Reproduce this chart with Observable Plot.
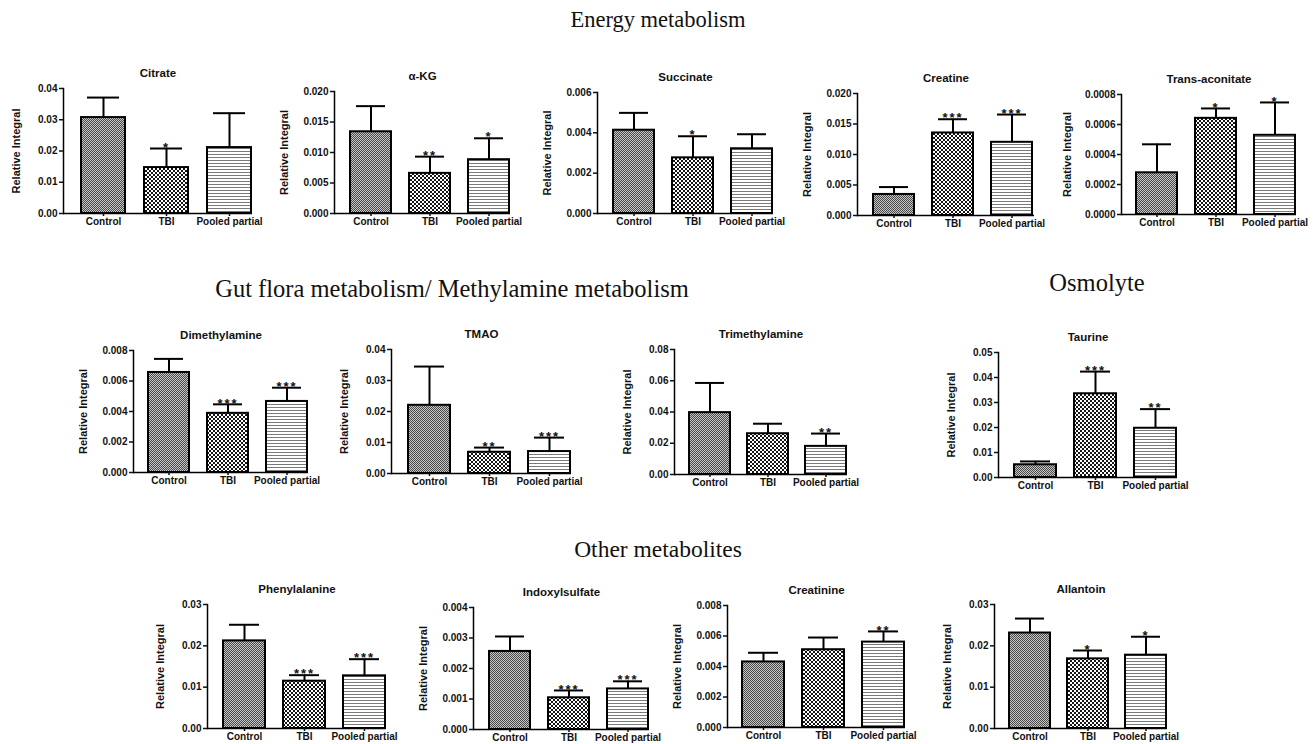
<!DOCTYPE html>
<html><head><meta charset="utf-8">
<script src="https://cdn.jsdelivr.net/npm/d3@7"></script>
<script src="https://cdn.jsdelivr.net/npm/@observablehq/plot@0.6"></script>
<style>
body{margin:0;background:#fff;}
#page{position:relative;width:1316px;height:744px;overflow:hidden;background:#fff;}
.panel{position:absolute;}
.panel svg{overflow:visible;}
.heading{position:absolute;font-family:"Liberation Serif","Times New Roman",serif;color:#111;white-space:nowrap;transform:translate(-50%,-50%);line-height:1;}
.stars text{letter-spacing:2px;}
</style></head><body><div id="page"></div>
<script>
// ---------- data ----------
const groups = ["Control", "TBI", "Pooled partial"];
const metabolites = ["Citrate", "α-KG", "Succinate", "Creatine", "Trans-aconitate",
  "Dimethylamine", "TMAO", "Trimethylamine", "Taurine",
  "Phenylalanine", "Indoxylsulfate", "Creatinine", "Allantoin"];
const sections = ["Energy metabolism", "Gut flora metabolism/ Methylamine metabolism", "Osmolyte", "Other metabolites"];
const yLabel = "Relative Integral";

const controlMean = [0.0307, 0.0134, 0.00413, 0.00345, 0.000278, 0.00656, 0.0220, 0.0396, 0.0051, 0.0212, 0.00256, 0.0043, 0.0231];
const controlErr  = [0.0371, 0.0176, 0.00499, 0.00466, 0.000468, 0.00745, 0.0345, 0.0586, 0.00643, 0.0251, 0.00305, 0.0049, 0.0266];
const tbiMean     = [0.0147, 0.00658, 0.00276, 0.01353, 0.000641, 0.00388, 0.00686, 0.0261, 0.0335, 0.01145, 0.00104, 0.0051, 0.01685];
const tbiErr      = [0.0208, 0.00932, 0.00383, 0.01578, 0.000707, 0.00447, 0.00836, 0.0325, 0.04236, 0.0129, 0.00128, 0.0059, 0.01887];
const pooledMean  = [0.0211, 0.00882, 0.00321, 0.0120, 0.000528, 0.00466, 0.00708, 0.0180, 0.0197, 0.01274, 0.00133, 0.0056, 0.01774];
const pooledErr   = [0.0321, 0.01233, 0.00393, 0.01655, 0.000747, 0.00556, 0.01158, 0.0262, 0.02735, 0.01677, 0.00158, 0.0063, 0.0222];
const tbiSig      = ["*", "**", "*", "***", "*", "***", "**", "", "***", "***", "***", "", "*"];
const pooledSig   = ["", "*", "", "***", "*", "***", "***", "**", "**", "***", "***", "**", "*"];

const yMax      = [0.04, 0.020, 0.006, 0.020, 0.0008, 0.008, 0.04, 0.08, 0.05, 0.03, 0.004, 0.008, 0.03];
const yStep     = [0.01, 0.005, 0.002, 0.005, 0.0002, 0.002, 0.01, 0.02, 0.01, 0.01, 0.001, 0.002, 0.01];
const yDecimals = [2, 3, 3, 3, 4, 3, 2, 2, 2, 2, 3, 3, 2];

// ---------- layout (page pixels): frame left, right, top, bottom ----------
const frames = [
  [63, 252, 88, 213], [334, 510, 91, 213], [597, 773, 92, 213], [857, 1034, 93, 215], [1121, 1296, 94, 214],
  [133, 308, 350, 472], [391, 571, 349, 473], [674, 847, 349, 474], [998, 1177, 352, 477],
  [207, 386, 604, 728], [473, 649, 607, 729], [727, 905, 605, 727], [994, 1167, 604, 728]
];
const headingPos = [[658, 20, 22.5], [452, 289, 24.5], [1097, 283, 24.5], [658, 550, 23.5]];

const page = document.getElementById("page");
const mL = 62, mR = 8, mT = 30, mB = 24;

sections.forEach((s, k) => {
  const d = document.createElement("div");
  d.className = "heading";
  d.textContent = s;
  d.style.left = headingPos[k][0] + "px";
  d.style.top = headingPos[k][1] + "px";
  d.style.fontSize = headingPos[k][2] + "px";
  page.appendChild(d);
});

function addPatterns(svg, i) {
  const ns = "http://www.w3.org/2000/svg";
  const defs = document.createElementNS(ns, "defs");
  defs.innerHTML =
    `<pattern id="ctrl${i}" width="2" height="2" patternUnits="userSpaceOnUse"><rect width="2" height="2" fill="#c6c6c6"/><rect width="1" height="1" fill="#4a4a4a"/><rect x="1" y="1" width="1" height="1" fill="#4a4a4a"/></pattern>` +
    `<pattern id="tbi${i}" width="4" height="4" patternUnits="userSpaceOnUse"><rect width="4" height="4" fill="#fff"/><rect width="2" height="2" fill="#151515"/><rect x="2" y="2" width="2" height="2" fill="#151515"/></pattern>` +
    `<pattern id="pool${i}" width="3" height="3" patternUnits="userSpaceOnUse"><rect width="3" height="3" fill="#fff"/><rect width="3" height="1" fill="#7a7a7a"/></pattern>`;
  svg.insertBefore(defs, svg.firstChild);
}

metabolites.forEach((name, i) => {
  const [L, R, T, B] = frames[i];
  const means = [controlMean[i], tbiMean[i], pooledMean[i]];
  const errs = [controlErr[i], tbiErr[i], pooledErr[i]];
  const sigs = ["", tbiSig[i], pooledSig[i]];
  const pats = [`url(#ctrl${i})`, `url(#tbi${i})`, `url(#pool${i})`];
  const rows = groups.map((g, j) => ({group: g, mean: means[j], err: errs[j], sig: sigs[j], pat: pats[j]}));
  const n = Math.round(yMax[i] / yStep[i]);
  const ticks = d3.range(n + 1).map(k => k * yStep[i]);
  const fmt = d3.format(`.${yDecimals[i]}f`);

  const chart = Plot.plot({
    width: mL + (R - L) + mR,
    height: mT + (B - T) + mB,
    marginLeft: mL, marginRight: mR, marginTop: mT, marginBottom: mB,
    style: {fontFamily: "'Liberation Sans', Arial, sans-serif", fontSize: "10px", fontWeight: "bold", background: "transparent", color: "#111", overflow: "visible"},
    x: {domain: groups, paddingInner: 0.3, paddingOuter: 0.13, align: 0.93},
    y: {domain: [0, yMax[i]]},
    color: {type: "identity"},
    marks: [
      Plot.barY(rows, {x: "group", y: "mean", fill: "pat", stroke: "#000", strokeWidth: 2}),
      Plot.ruleX(rows, {x: "group", y1: "mean", y2: "err", stroke: "#000", strokeWidth: 2}),
      Plot.tickY(rows, {x: "group", y: "err", stroke: "#000", strokeWidth: 2, insetLeft: 6, insetRight: 6}),
      Plot.text(rows.filter(d => d.sig), {x: "group", y: "err", text: "sig", fontSize: 13, fontWeight: "bold", dy: -1, className: "stars"}),
      Plot.ruleY([0], {stroke: "#000", strokeWidth: 1.5}),
      Plot.frame({anchor: "left", stroke: "#000", strokeWidth: 1.5}),
      Plot.axisY({ticks, tickFormat: fmt, tickSize: 4, tickPadding: 2, strokeWidth: 1.5, label: null, fontWeight: "bold"}),
      Plot.text([yLabel], {frameAnchor: "left", rotate: -90, textAnchor: "middle", lineAnchor: "top", dx: -(44 + 3.5 * yDecimals[i]), text: d => d, fontSize: 11, fontWeight: "bold"}),
      Plot.axisX({tickSize: 3, tickPadding: 1, label: null, strokeWidth: 1.5, fontWeight: "bold"}),
      Plot.text([name], {frameAnchor: "top", dy: -20, text: d => d, fontSize: 11.5, fontWeight: "bold"})
    ]
  });
  addPatterns(chart, i);
  const div = document.createElement("div");
  div.className = "panel";
  div.style.left = (L - mL) + "px";
  div.style.top = (T - mT) + "px";
  div.appendChild(chart);
  page.appendChild(div);
});
</script>
</body></html>
